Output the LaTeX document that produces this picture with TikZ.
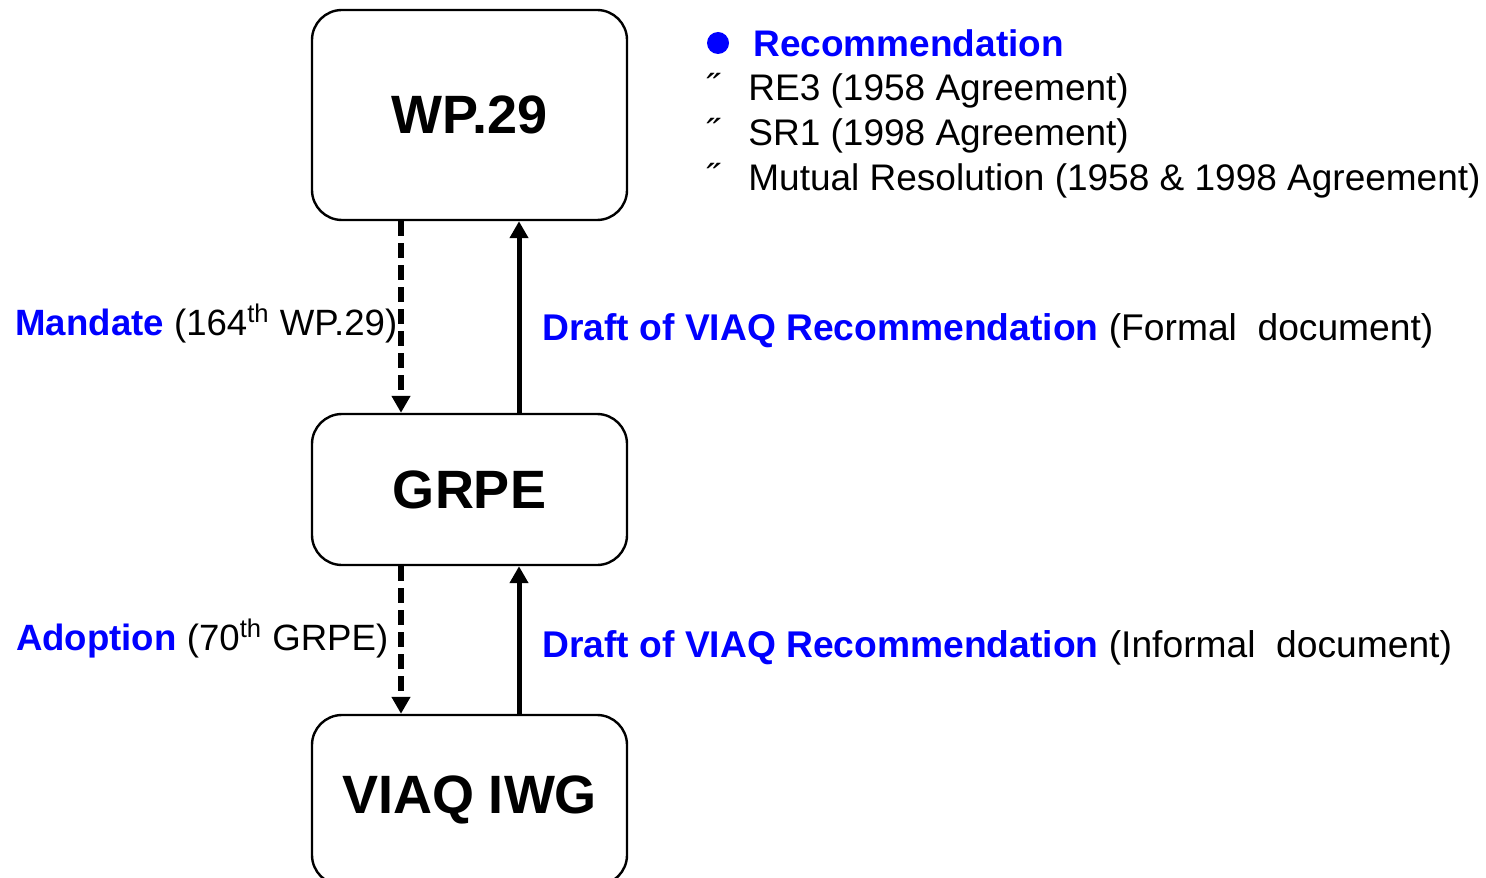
\documentclass[tikz,border=0pt]{standalone}
\usepackage{fontspec}
\setmainfont{Liberation Sans}
\usetikzlibrary{arrows.meta,positioning}
\definecolor{recblue}{RGB}{0,0,255}

\begin{document}
\begin{tikzpicture}[x=0.5pt,y=-0.5pt,on grid,
    >={Triangle[length=8.5pt,width=9pt]},
    group/.style={draw,line width=1.2pt,rounded corners=15pt,minimum width=157.5pt,
      font=\fontsize{27}{32}\selectfont\bfseries},
    down/.style={->,line width=2.8pt,dash pattern=on 7.5pt off 3.5pt},
    up/.style={->,line width=2.5pt},
    lbl/.style={inner sep=0pt,font=\fontsize{18.3}{22}\selectfont},
    rlbl/.style={inner sep=0pt,font=\fontsize{18.6}{22}\selectfont},
    blue/.style={text=recblue,font=\fontsize{18.5}{22}\selectfont\bfseries}]
   \path[use as bounding box,clip] (0,0) rectangle (1486,877);
   % the three groups
   \node[group,minimum height=105pt] (wp) at (469.5,115) {WP.29};
   \node[group,minimum height=75.5pt] (grpe) [below=187.25pt of wp] {GRPE};
   \node[group,minimum height=85pt] (iwg) [below=155.25pt of grpe] {VIAQ IWG};
   % links
   \draw[down] ([xshift=-34.25pt]wp.south) -- ([xshift=-34.25pt]grpe.north)
     node[lbl,pos=0.535,left=0.5pt] (mandate) {\textcolor{recblue}{\bfseries Mandate} (164\textsuperscript{th} WP.29)};
   \draw[up] ([xshift=24.75pt]grpe.north) -- ([xshift=24.75pt]wp.south)
     node[rlbl,pos=0.43,right=10.5pt] (formal) {\textcolor{recblue}{\bfseries Draft of VIAQ Recommendation} (Formal~~document)};
   \draw[down] ([xshift=-34.25pt]grpe.south) -- ([xshift=-34.25pt]iwg.north)
     node[lbl,pos=0.49,left=5pt] (adoption) {\textcolor{recblue}{\bfseries Adoption} (70\textsuperscript{th} GRPE)};
   \draw[up] ([xshift=24.75pt]iwg.north) -- ([xshift=24.75pt]grpe.south)
     node[rlbl,pos=0.45,right=10.5pt] (informal) {\textcolor{recblue}{\bfseries Draft of VIAQ Recommendation} (Informal~~document)};
   % recommendation list
   \node[circle,fill=recblue,minimum size=11pt,inner sep=0pt] (dot) at (718,43) {};
   \node[blue,anchor=west,inner sep=0pt] (rec) at (753,43) {Recommendation};
   \node[lbl,anchor=north west,align=left,font=\fontsize{18.5}{22.5}\selectfont] (items) at (706,73) {%
     \makebox[21pt][l]{˝}RE3 (1958 Agreement)\\
     \makebox[21pt][l]{˝}SR1 (1998 Agreement)\\
     \makebox[21pt][l]{˝}Mutual Resolution (1958 \& 1998 Agreement)};
\end{tikzpicture}
\end{document}
